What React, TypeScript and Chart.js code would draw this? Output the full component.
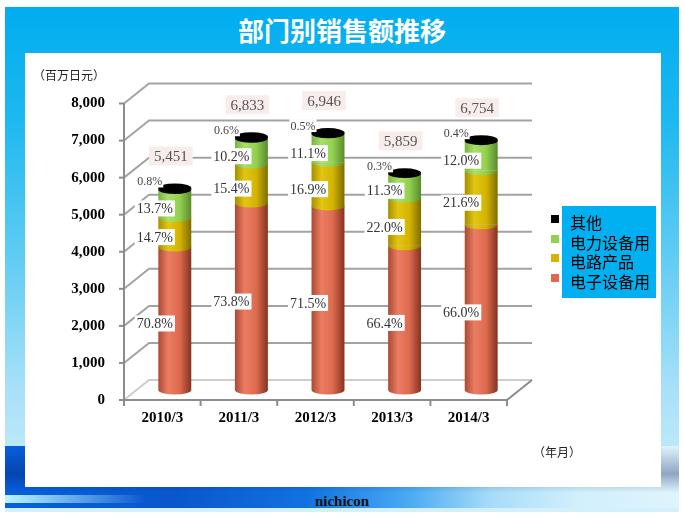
import React, { useEffect, useRef } from "react";
import { Chart, registerables } from "chart.js";

Chart.register(...registerables);

// ---------- data ----------
const categories = ["2010/3", "2011/3", "2012/3", "2013/3", "2014/3"];
const totals = [5451, 6833, 6946, 5859, 6754];
const electronicsPct = [70.8, 73.8, 71.5, 66.4, 66.0];
const circuitPct = [14.7, 15.4, 16.9, 22.0, 21.6];
const powerPct = [13.7, 10.2, 11.1, 11.3, 12.0];
const otherPct = [0.8, 0.6, 0.5, 0.3, 0.4];
const seriesLabels = ["电子设备用", "电路产品", "电力设备用", "其他"];
const yMax = 8000;
const yStep = 1000;

// ---------- styles ----------
const seriesPct = [electronicsPct, circuitPct, powerPct, otherPct];
const seriesShades = [
  ["#a94a35", "#ec7d62", "#dc6a4f", "#84331f"],
  ["#a68e00", "#e2c612", "#d3b400", "#7f6c00"],
  ["#78b240", "#a8e068", "#92d050", "#5a8a2c"],
  ["#000000", "#111111", "#000000", "#000000"],
];
const legendColors = ["#dd6a4f", "#d4b500", "#92d050", "#000000"];
const SERIF = "'Liberation Serif', 'DejaVu Serif', serif";
const CJK = "'Noto Sans CJK SC', 'Noto Sans', sans-serif";
const BAR_FRACTION = 0.43;
const DEPTH_X = 12.5;
const DEPTH_Y = 10;

function cylFill(stops: string[]) {
  return (ctx: any) => {
    const chart = ctx.chart;
    const xs = chart.scales && chart.scales.x;
    if (!xs || ctx.dataIndex == null) return stops[2];
    const cx = xs.getPixelForValue(ctx.dataIndex);
    const half = ((xs.width / categories.length) * BAR_FRACTION) / 2;
    if (!isFinite(cx) || !isFinite(half) || half <= 0) return stops[2];
    const g = chart.ctx.createLinearGradient(cx - half, 0, cx + half, 0);
    g.addColorStop(0, stops[0]);
    g.addColorStop(0.3, stops[1]);
    g.addColorStop(0.65, stops[2]);
    g.addColorStop(1, stops[3]);
    return g;
  };
}

const framePlugin = {
  id: "frame3d",
  beforeDatasetsDraw(chart: any) {
    const { ctx, chartArea: a, scales } = chart;
    const ys = scales.y;
    const xs = scales.x;
    const dx = DEPTH_X;
    const dy = DEPTH_Y;
    ctx.save();
    ctx.lineWidth = 2;
    ys.ticks.forEach((t: any) => {
      const py = ys.getPixelForValue(t.value);
      ctx.strokeStyle = t.value === 0 ? "#cdcdcd" : "#a3a3a3";
      ctx.beginPath();
      ctx.moveTo(a.left - dx, py + dy);
      ctx.lineTo(a.left + dx, py - dy);
      ctx.lineTo(a.right + dx, py - dy);
      ctx.stroke();
      ctx.strokeStyle = "#8c8c8c";
      ctx.beginPath();
      ctx.moveTo(a.left - dx - 5, py + dy);
      ctx.lineTo(a.left - dx, py + dy);
      ctx.stroke();
    });
    const y0 = ys.getPixelForValue(0);
    const yTop = ys.getPixelForValue(yMax);
    ctx.strokeStyle = "#8c8c8c";
    ctx.beginPath();
    ctx.moveTo(a.left - dx, yTop + dy);
    ctx.lineTo(a.left - dx, y0 + dy);
    ctx.lineTo(a.right - dx, y0 + dy);
    ctx.lineTo(a.right + dx, y0 - dy);
    ctx.stroke();
    const n = xs.ticks.length;
    const cw = (a.right - a.left) / n;
    for (let i = 0; i <= n; i++) {
      const px = a.left + cw * i - dx;
      ctx.beginPath();
      ctx.moveTo(px, y0 + dy);
      ctx.lineTo(px, y0 + dy + 6);
      ctx.stroke();
    }
    ctx.restore();
  },
};

const cylinderPlugin = {
  id: "cylinders",
  afterDatasetsDraw(chart: any) {
    const ctx = chart.ctx;
    const n = chart.data.datasets.length;
    for (let d = 0; d < n; d++) {
      const meta = chart.getDatasetMeta(d);
      meta.data.forEach((bar: any) => {
        const { x, y, base, width } = bar.getProps(["x", "y", "base", "width"], true);
        const rx = width / 2;
        const ry = 4.5;
        ctx.save();
        ctx.fillStyle = bar.options.backgroundColor;
        ctx.beginPath();
        ctx.ellipse(x, base, rx, ry, 0, 0, Math.PI);
        ctx.fill();
        if (d === n - 1) {
          ctx.fillStyle = "#000";
          ctx.beginPath();
          ctx.ellipse(x, y, rx, ry, 0, 0, Math.PI * 2);
          ctx.fill();
        }
        ctx.restore();
      });
    }
  },
};

function boxLabel(ctx: any, text: string, cx: number, cy: number, font: string, color: string, bg: string, padX: number, h: number) {
  ctx.font = font;
  const w = ctx.measureText(text).width + padX * 2;
  ctx.fillStyle = bg;
  ctx.fillRect(cx - w / 2, cy - h / 2, w, h);
  ctx.fillStyle = color;
  ctx.textAlign = "center";
  ctx.textBaseline = "middle";
  ctx.fillText(text, cx, cy + 1);
}

const labelPlugin = {
  id: "valueLabels",
  afterDatasetsDraw(chart: any) {
    const ctx = chart.ctx;
    const n = chart.data.datasets.length;
    ctx.save();
    for (let d = 0; d < n; d++) {
      const meta = chart.getDatasetMeta(d);
      meta.data.forEach((bar: any, i: number) => {
        const { x, y, base } = bar.getProps(["x", "y", "base"], true);
        const txt = seriesPct[d][i].toFixed(1) + "%";
        if (d < n - 1) {
          boxLabel(ctx, txt, x - 20, (y + base) / 2 + 5, `14px ${SERIF}`, "#333", "#ffffff", 2, 16);
        } else {
          boxLabel(ctx, txt, x - 25, y - 7, `12px ${SERIF}`, "#444", "#ffffff", 1, 13);
          boxLabel(ctx, totals[i].toLocaleString("en-US"), x - 4, y - 32, `15px ${SERIF}`, "#555", "#f9edeb", 5, 19);
        }
      });
    }
    ctx.restore();
  },
};

export default function App() {
  const ref = useRef<HTMLCanvasElement>(null);

  useEffect(() => {
    const canvas = ref.current!;
    const chart = new Chart(canvas, {
      type: "bar",
      data: {
        labels: categories,
        datasets: seriesPct.map((pcts, s) => ({
          label: seriesLabels[s],
          data: pcts.map((p, i) => (totals[i] * p) / 100),
          backgroundColor: cylFill(seriesShades[s]) as any,
          borderWidth: 0,
          barPercentage: BAR_FRACTION,
          categoryPercentage: 1,
        })),
      },
      options: {
        responsive: false,
        animation: false,
        layout: { padding: { left: 0, right: 141.5, top: 39, bottom: 0 } },
        plugins: { legend: { display: false }, tooltip: { enabled: false } },
        scales: {
          x: {
            stacked: true,
            grid: { display: false, drawTicks: false },
            border: { display: false },
            ticks: {
              padding: 19,
              labelOffset: -DEPTH_X,
              color: "#000",
              maxRotation: 0,
              autoSkip: false,
              font: { family: SERIF, size: 15, weight: "bold" },
            },
            afterFit: (s: any) => {
              s.height = 97;
            },
          } as any,
          y: {
            stacked: true,
            min: 0,
            max: yMax,
            grid: { display: false, drawTicks: false },
            border: { display: false },
            ticks: {
              stepSize: yStep,
              padding: 31.5,
              labelOffset: DEPTH_Y,
              color: "#000",
              font: { family: SERIF, size: 15, weight: "bold" },
              callback: (v: any) => Number(v).toLocaleString("en-US"),
            },
            afterFit: (s: any) => {
              s.width = 111.5;
            },
          } as any,
        },
      },
      plugins: [framePlugin, cylinderPlugin, labelPlugin],
    });
    return () => chart.destroy();
  }, []);

  const legendOrder = [3, 2, 1, 0];

  return (
    <div style={{ position: "fixed", left: 0, top: 0, width: 684, height: 518, background: "#ffffff", overflow: "hidden" }}>
      {/* blue frame */}
      <div
        style={{
          position: "absolute",
          left: 5,
          top: 7,
          width: 674,
          height: 505,
          background: "linear-gradient(180deg, #00adef 0%, #1db8f0 22%, #5ccbf3 48%, #a6e0f8 75%, #d4f0fc 100%)",
        }}
      />
      {/* bottom wave */}
      <div
        style={{
          position: "absolute",
          left: 5,
          top: 446,
          width: 674,
          height: 62,
          background:
            "linear-gradient(180deg, rgba(0,0,0,0) 0%, rgba(0,20,90,0.35) 45%, rgba(0,0,0,0) 75%), linear-gradient(90deg, #0660dc 0%, #0a56cc 25%, #1272e2 45%, #4aaaf2 60%, #a6dcf8 72%, #d2effc 85%, #dff4fc 100%)",
        }}
      />
      <div
        style={{
          position: "absolute",
          left: 5,
          top: 495,
          width: 140,
          height: 8,
          background: "linear-gradient(90deg, #bdf5fd, rgba(189,245,253,0))",
        }}
      />
      {/* title */}
      <div
        style={{
          position: "absolute",
          left: 5,
          top: 7,
          width: 674,
          height: 46,
          lineHeight: "46px",
          textAlign: "center",
          color: "#ffffff",
          fontFamily: CJK,
          fontWeight: "bold",
          fontSize: 26,
        }}
      >
        部门别销售额推移
      </div>
      {/* white panel */}
      <div style={{ position: "absolute", left: 25, top: 53, width: 636, height: 434, background: "#ffffff" }}>
        <canvas ref={ref} width={636} height={434} style={{ position: "absolute", left: 0, top: 0, width: 636, height: 434 }} />
        <div
          style={{
            position: "absolute",
            left: 8,
            top: 13,
            fontFamily: CJK,
            fontSize: 12,
            color: "#222",
            lineHeight: "18px",
            whiteSpace: "nowrap",
          }}
        >
          （百万日元）
        </div>
        <div
          style={{
            position: "absolute",
            left: 508,
            top: 390,
            fontFamily: CJK,
            fontSize: 12,
            color: "#222",
            lineHeight: "18px",
            whiteSpace: "nowrap",
          }}
        >
          （年月）
        </div>
        {/* legend */}
        <div
          style={{
            position: "absolute",
            left: 537,
            top: 153,
            width: 94,
            height: 92,
            background: "#00b0f0",
            boxSizing: "border-box",
            paddingTop: 7,
            paddingLeft: 8,
          }}
        >
          {legendOrder.map((s) => (
            <div
              key={s}
              style={{
                position: "relative",
                height: 19.5,
                lineHeight: "19.5px",
                fontFamily: CJK,
                fontSize: 16,
                color: "#000",
                whiteSpace: "nowrap",
              }}
            >
              <span
                style={{
                  position: "absolute",
                  left: -19,
                  top: 2,
                  width: 8,
                  height: 8,
                  background: legendColors[s],
                }}
              />
              {seriesLabels[s]}
            </div>
          ))}
        </div>
      </div>
      <div
        style={{
          position: "absolute",
          left: 0,
          width: 684,
          top: 493,
          textAlign: "center",
          fontFamily: SERIF,
          fontWeight: "bold",
          fontSize: 15,
          color: "#111",
          lineHeight: "16px",
        }}
      >
        nichicon
      </div>
    </div>
  );
}
